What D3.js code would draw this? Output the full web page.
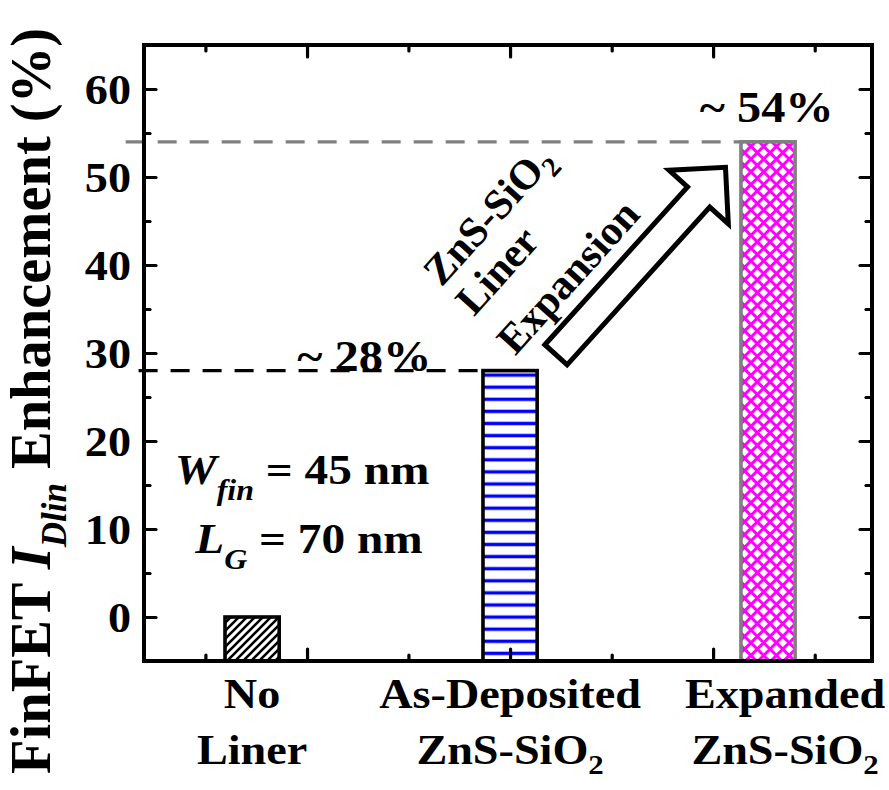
<!DOCTYPE html>
<html>
<head>
<meta charset="utf-8">
<script src="https://cdn.jsdelivr.net/npm/d3@7"></script>
<style>
  html, body { margin: 0; padding: 0; background: #fff; }
  svg { display: block; }
  text { font-family: "Liberation Serif", "Times New Roman", serif; font-weight: bold; fill: #000; }
</style>
</head>
<body>
<svg id="chart" width="889" height="790"></svg>
<script>
// Samples on the category axis and their liner-induced I_Dlin enhancement (%)
const categories = ["No Liner", "As-Deposited ZnS-SiO2", "Expanded ZnS-SiO2"];
const positions = [1, 2, 3];
const enhancement = [0, 28, 54];
const valueLabels = ["", "~ 28%", "~ 54%"];

// Axis ticks
const yMajorTicks = [0, 10, 20, 30, 40, 50, 60];
const yMinorTicks = [5, 15, 25, 35, 45, 55];
const xMajorTicks = [1.213, 2, 2.787];
const xMinorTicks = [0.819, 1.606, 2.394, 3.181];

const plot = { left: 144, right: 872, top: 45, bottom: 661 };
const wide = 1.1; // horizontal stretch of the bold serif lettering

const svg = d3.select("#chart");

const x = d3.scaleLinear().domain([0.581, 3.403]).range([plot.left, plot.right]);
const y = d3.scaleLinear().domain([-5, 65]).range([plot.bottom, plot.top]);

// text placed at (px,py) and widened horizontally
function wideText(px, py, size, anchor) {
  return svg.append("text")
    .attr("transform", `translate(${px},${py}) scale(${wide},1)`)
    .attr("text-anchor", anchor || "start")
    .attr("font-size", size);
}

// ---- fill patterns ----
const defs = svg.append("defs");

// diagonal hatch (black)
const pHatch = defs.append("pattern").attr("id", "hatch")
  .attr("patternUnits", "userSpaceOnUse").attr("width", 8).attr("height", 8);
pHatch.append("rect").attr("width", 8).attr("height", 8).attr("fill", "#fff");
pHatch.append("path").attr("d", "M-2,2 L2,-2 M0,8 L8,0 M6,10 L10,6")
  .attr("stroke", "#000").attr("stroke-width", 2.6);

// horizontal lines (blue)
const pHoriz = defs.append("pattern").attr("id", "horiz")
  .attr("patternUnits", "userSpaceOnUse").attr("width", 12).attr("height", 12.1)
  .attr("patternTransform", "translate(0,6.05)");
pHoriz.append("rect").attr("width", 12).attr("height", 12.1).attr("fill", "#fff");
pHoriz.append("path").attr("d", "M0,6.05 H12")
  .attr("stroke", "#0000ff").attr("stroke-width", 3.4);

// cross hatch (magenta)
const pCross = defs.append("pattern").attr("id", "cross")
  .attr("patternUnits", "userSpaceOnUse").attr("width", 9).attr("height", 9)
  .attr("patternTransform", "rotate(45)");
pCross.append("rect").attr("width", 9).attr("height", 9).attr("fill", "#fff");
pCross.append("path").attr("d", "M0,4.5 H9 M4.5,0 V9")
  .attr("stroke", "#ff00ff").attr("stroke-width", 3.0);

const fills = ["url(#hatch)", "url(#horiz)", "url(#cross)"];
const borders = ["#000", "#000", "#808080"];

// ---- reference dashed lines at the two enhancement levels ----
const barW = 0.21;
const refLines = [
  { v: enhancement[1], x0: 0.56, x1: positions[1] - barW / 2, color: "#000" },
  { v: enhancement[2], x0: 0.51, x1: positions[2] - barW / 2, color: "#808080" }
];
svg.append("g").selectAll("line").data(refLines).join("line")
  .attr("x1", d => x(d.x0)).attr("x2", d => x(d.x1))
  .attr("y1", d => y(d.v)).attr("y2", d => y(d.v))
  .attr("stroke", d => d.color).attr("stroke-width", 3.2)
  .attr("stroke-dasharray", "19,13");

// ---- bars ----
const bars = categories.map((c, i) => ({ c, p: positions[i], v: enhancement[i], i }));
svg.append("g").selectAll("rect").data(bars).join("rect")
  .attr("x", d => x(d.p - barW / 2))
  .attr("width", d => x(d.p + barW / 2) - x(d.p - barW / 2))
  .attr("y", d => y(d.v))
  .attr("height", d => y(-5) - y(d.v))
  .attr("fill", d => fills[d.i])
  .attr("stroke", d => borders[d.i])
  .attr("stroke-width", 3.6);

// ---- frame and ticks ----
function tickAxis(gen, major, minor, transform) {
  const g = svg.append("g").attr("transform", transform);
  g.call(gen.tickValues(major).tickSize(12).tickFormat(""));
  g.call(gg => gg.select(".domain").remove());
  const g2 = svg.append("g").attr("transform", transform);
  g2.call(gen.tickValues(minor).tickSize(6).tickFormat(""));
  g2.call(gg => gg.select(".domain").remove());
  [g, g2].forEach(gg => gg.selectAll(".tick line").attr("stroke", "#000")
    .attr("stroke-width", 3.2).attr("stroke-linecap", "round"));
}
tickAxis(d3.axisRight(y), yMajorTicks, yMinorTicks, `translate(${plot.left},0)`);
tickAxis(d3.axisLeft(y), yMajorTicks, yMinorTicks, `translate(${plot.right},0)`);
tickAxis(d3.axisTop(x), xMajorTicks, xMinorTicks, `translate(0,${plot.bottom})`);
tickAxis(d3.axisBottom(x), xMajorTicks, xMinorTicks, `translate(0,${plot.top})`);

svg.append("rect")
  .attr("x", plot.left).attr("y", plot.top)
  .attr("width", plot.right - plot.left).attr("height", plot.bottom - plot.top)
  .attr("fill", "none").attr("stroke", "#000").attr("stroke-width", 4);

// y tick labels
yMajorTicks.forEach(v => {
  wideText(plot.left - 13, y(v) + 14.5, 42, "end").text(v);
});

// ---- category labels (two lines, subscript on SiO2) ----
const catLines = [["No", "Liner"], ["As-Deposited", "ZnS-SiO|2"], ["Expanded", "ZnS-SiO|2"]];
const catShift = [0, 0, 0.066];
catLines.forEach((lines, i) => {
  lines.forEach((ln, j) => {
    const t = wideText(x(positions[i] + catShift[i]), 708 + j * 56, 42, "middle");
    const parts = ln.split("|");
    t.append("tspan").text(parts[0]);
    if (parts[1]) t.append("tspan").attr("font-size", 28).attr("dy", 10).text(parts[1]);
  });
});

// ---- y axis title ----
const yt = svg.append("text")
  .attr("transform", `translate(50,401) rotate(-90)`)
  .attr("text-anchor", "middle").attr("font-size", 56.5);
yt.append("tspan").text("FinFET ");
yt.append("tspan").attr("font-style", "italic").text("I");
yt.append("tspan").attr("font-style", "italic").attr("font-size", 35).attr("dy", 16).text("Dlin");
yt.append("tspan").attr("dy", -16).text(" Enhancement (%)");

// ---- value labels above bars ----
const labelPos = [null, { px: 1.435, py: 28.0 }, { px: 2.995, py: 56.2 }];
bars.filter(d => valueLabels[d.i]).forEach(d => {
  wideText(x(labelPos[d.i].px), y(labelPos[d.i].py), 44, "middle").text(valueLabels[d.i]);
});

// ---- device dimensions ----
const dims = [
  { main: "W", sub: "fin", rest: " = 45 nm", px: 0.70, py: 15.1 },
  { main: "L", sub: "G", rest: " = 70 nm", px: 0.78, py: 7.3 }
];
dims.forEach(d => {
  const t = wideText(x(d.px), y(d.py), 43, "start");
  t.append("tspan").attr("font-style", "italic").text(d.main);
  t.append("tspan").attr("font-style", "italic").attr("font-size", 29).attr("dy", 16).text(d.sub);
  t.append("tspan").attr("dy", -16).text(d.rest);
});

// ---- expansion arrow (hollow block arrow) ----
const arrowTail = { px: 2.178, py: 29.8 };
const arrowTip = { px: 2.835, py: 51.1 };
const tx = x(arrowTail.px), ty = y(arrowTail.py);
const hx = x(arrowTip.px), hy = y(arrowTip.py);
const len = Math.hypot(hx - tx, hy - ty);
const ang = Math.atan2(hy - ty, hx - tx) * 180 / Math.PI;
const shaftHalf = 15, headHalf = 40, headLen = 40;
const arrowPath = d3.path();
arrowPath.moveTo(0, -shaftHalf);
arrowPath.lineTo(len - headLen, -shaftHalf);
arrowPath.lineTo(len - headLen, -headHalf);
arrowPath.lineTo(len, 0);
arrowPath.lineTo(len - headLen, headHalf);
arrowPath.lineTo(len - headLen, shaftHalf);
arrowPath.lineTo(0, shaftHalf);
arrowPath.closePath();
svg.append("path")
  .attr("d", arrowPath.toString())
  .attr("transform", `translate(${tx},${ty}) rotate(${ang})`)
  .attr("fill", "#fff").attr("stroke", "#000").attr("stroke-width", 5)
  .attr("stroke-linejoin", "miter");

// ---- rotated description next to the arrow ----
const descLines = [
  { txt: "ZnS-SiO|2", px: 1.955, py: 44.6 },
  { txt: "Liner", px: 1.99, py: 38.3 },
  { txt: "Expansion", px: 2.265, py: 37.6 }
];
descLines.forEach(d => {
  const t = svg.append("text")
    .attr("transform", `translate(${x(d.px)},${y(d.py)}) rotate(-48)`)
    .attr("text-anchor", "middle").attr("font-size", 42);
  const parts = d.txt.split("|");
  t.append("tspan").text(parts[0]);
  if (parts[1]) t.append("tspan").attr("font-size", 28).attr("dy", 10).text(parts[1]);
});
</script>
</body>
</html>
